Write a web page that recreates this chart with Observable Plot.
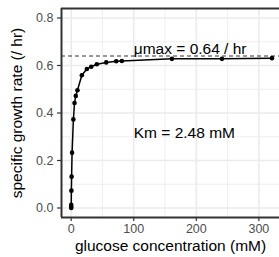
<!DOCTYPE html>
<html>
<head>
<meta charset="utf-8">
<script src="https://cdn.jsdelivr.net/npm/d3@7"></script>
<script src="https://cdn.jsdelivr.net/npm/@observablehq/plot@0.6"></script>
<style>
  html, body { margin: 0; padding: 0; background: #fff; }
  #chart svg { display: block; }
</style>
</head>
<body>
<div id="chart"></div>
<script>
// glucose concentration (mM)
const glucose = [0.02, 0.04, 0.06, 0.32, 0.65, 1.4, 3.5, 5.3, 7.3, 10, 17, 25, 32, 41, 56, 72, 81, 161, 241, 321];
// specific growth rate (/ hr)
const growth = [0.0, 0.005, 0.013, 0.073, 0.132, 0.233, 0.373, 0.442, 0.472, 0.496, 0.559, 0.585, 0.595, 0.605, 0.613, 0.618, 0.619, 0.628, 0.628, 0.631];
const muMax = 0.64;
const km = 2.48;
const xTicks = [0, 100, 200, 300];
const xMinor = [50, 150, 250];
const yTicks = [0, 0.2, 0.4, 0.6, 0.8];
const yMinor = [0.1, 0.3, 0.5, 0.7];
const xTitle = "glucose concentration (mM)";
const yTitle = "specific growth rate (/ hr)";
const muLabel = "μmax = " + muMax + " / hr";
const kmLabel = "Km = " + km + " mM";

const data = glucose.map((g, i) => ({glucose: g, growth: growth[i]}));
const xDomain = [-15.5, 333];
const yDomain = [-0.04, 0.84];
const font = "'Liberation Sans', Arial, sans-serif";

const chart = Plot.plot({
  width: 279,
  height: 257,
  marginLeft: 61,
  marginRight: 0,
  marginTop: 8,
  marginBottom: 40,
  style: {fontFamily: font, fontSize: "12.5px", background: "#fff", color: "#4D4D4D"},
  x: {domain: xDomain, label: null},
  y: {domain: yDomain, label: null},
  marks: [
    Plot.ruleX(xMinor, {stroke: "#EBEBEB", strokeWidth: 0.8}),
    Plot.ruleY(yMinor, {stroke: "#EBEBEB", strokeWidth: 0.8}),
    Plot.ruleX(xTicks, {stroke: "#EBEBEB", strokeWidth: 1.6}),
    Plot.ruleY(yTicks, {stroke: "#EBEBEB", strokeWidth: 1.6}),
    Plot.ruleY([muMax], {stroke: "#333", strokeWidth: 1, strokeDasharray: "4,3"}),
    Plot.line(data, {x: "glucose", y: "growth", stroke: "#000", strokeWidth: 1.5}),
    Plot.dot(data, {x: "glucose", y: "growth", r: 2.3, fill: "#000", stroke: "none"}),
    Plot.text([muLabel], {x: 100, y: 0.669, text: d => d, textAnchor: "start", lineAnchor: "middle", fontSize: 15.5, fill: "#000"}),
    Plot.text([kmLabel], {x: 100, y: 0.317, text: d => d, textAnchor: "start", lineAnchor: "middle", fontSize: 15.5, fill: "#000"}),
    Plot.ruleY([yDomain[1]], {stroke: "#333", strokeWidth: 2}),
    Plot.ruleY([yDomain[0]], {stroke: "#333", strokeWidth: 2}),
    Plot.ruleX([xDomain[0]], {stroke: "#333", strokeWidth: 2}),
    Plot.axisX({ticks: xTicks, tickSize: 4, tickPadding: 3, stroke: "#333", strokeWidth: 1.2, fill: "#4D4D4D", fontSize: 12.5, label: null}),
    Plot.axisY({ticks: yTicks, tickSize: 4, tickPadding: 4, tickFormat: d3.format(".1f"), stroke: "#333", strokeWidth: 1.2, fill: "#4D4D4D", fontSize: 12.5, label: null}),
    Plot.text([xTitle], {frameAnchor: "bottom", text: d => d, dy: 28.3, lineAnchor: "middle", fontSize: 15.5, fill: "#000"}),
    Plot.text([yTitle], {frameAnchor: "left", text: d => d, dx: -44.3, rotate: -90, lineAnchor: "middle", textAnchor: "middle", fontSize: 15.5, fill: "#000"})
  ]
});
document.getElementById("chart").appendChild(chart);
</script>
</body>
</html>
